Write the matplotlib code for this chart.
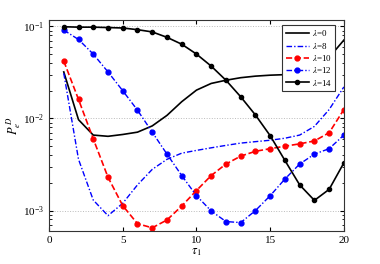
import numpy as np
import matplotlib
matplotlib.use('Agg')
import matplotlib.pyplot as plt

"""Error probability P_e^D versus tau_1 for several lambda values"""

tau = np.arange(1, 21)

p_lam0 = [0.032, 0.0097, 0.0066, 0.0064, 0.0067, 0.0071, 0.0083, 0.0108, 0.0152, 0.0203,
          0.024, 0.026, 0.0277, 0.0288, 0.0295, 0.0299, 0.0302, 0.031, 0.046, 0.071]
p_lam8 = [0.031, 0.0036, 0.0013, 0.00088, 0.0012, 0.0019, 0.0028, 0.0036, 0.0042, 0.0045,
          0.0048, 0.0051, 0.0054, 0.0056, 0.0058, 0.0061, 0.0066, 0.0082, 0.0125, 0.022]
p_lam10 = [0.042, 0.0161, 0.0060, 0.0023, 0.00113, 0.00072, 0.00065, 0.00079, 0.00112, 0.00165,
           0.0024, 0.0032, 0.0039, 0.0044, 0.0047, 0.0050, 0.0053, 0.0057, 0.0070, 0.0125]
p_lam12 = [0.091, 0.072, 0.050, 0.032, 0.020, 0.0123, 0.0071, 0.0041, 0.0024, 0.00145,
           0.00099, 0.00076, 0.00074, 0.0010, 0.00145, 0.0022, 0.0032, 0.0041, 0.0047, 0.0066]
p_lam14 = [0.099, 0.098, 0.098, 0.097, 0.096, 0.092, 0.087, 0.076, 0.064, 0.050,
           0.037, 0.026, 0.0172, 0.0109, 0.0065, 0.0035, 0.0019, 0.00129, 0.0017, 0.0033]

labels = [r'$\lambda$=0', r'$\lambda$=8', r'$\lambda$=10', r'$\lambda$=12', r'$\lambda$=14']

plt.rcParams['font.family'] = ['Liberation Serif', 'DejaVu Serif']
plt.rcParams['mathtext.fontset'] = 'stix'


def plot_data():
    fig = plt.figure(figsize=(3.8, 2.64), dpi=100)
    ax = fig.add_axes([0.129, 0.125, 0.776, 0.799])

    ax.plot(tau, p_lam0, color='black', lw=1.2, label=labels[0])
    ax.plot(tau, p_lam8, color='blue', lw=1.0, ls=(0, (4, 1.5, 1, 1.5)), label=labels[1])
    ax.plot(tau, p_lam10, color='red', lw=1.2, ls='--', marker='o', ms=3.5, label=labels[2])
    ax.plot(tau, p_lam12, color='blue', lw=1.0, ls=(0, (4, 1.5, 1, 1.5)), marker='o', ms=3.5,
            label=labels[3])
    ax.plot(tau, p_lam14, color='black', lw=1.2, marker='o', ms=3.0, label=labels[4])

    ax.set_yscale('log')
    ax.set_xlim(0, 20)
    ax.set_ylim(6.0e-4, 0.117)
    ax.set_xticks([0, 5, 10, 15, 20])
    ax.set_yticks([1e-3, 1e-2, 1e-1])
    ax.yaxis.grid(True, which='major', ls=':', color='#bbbbbb', lw=0.7)
    ax.tick_params(which='both', direction='in', top=True, right=True, labelsize=8)
    ax.tick_params(which='major', length=3)
    ax.tick_params(which='minor', length=1.8)
    for s in ax.spines.values():
        s.set_linewidth(0.8)
        s.set_color('#333333')

    ax.set_xlabel(r'$\tau_1$', fontsize=9, labelpad=1)
    ax.set_ylabel(r'$P_e^{\,D}$', fontsize=9, labelpad=0)

    leg = ax.legend(loc='upper right', bbox_to_anchor=(0.97, 0.975), fontsize=6.5,
                    fancybox=False, edgecolor='#333333', framealpha=1,
                    handlelength=2.6, handletextpad=0.3, labelspacing=0.25,
                    borderpad=0.35, borderaxespad=0)
    leg.get_frame().set_linewidth(0.8)

    fig.savefig('out.png', dpi=100)


if __name__ == '__main__':
    plot_data()
